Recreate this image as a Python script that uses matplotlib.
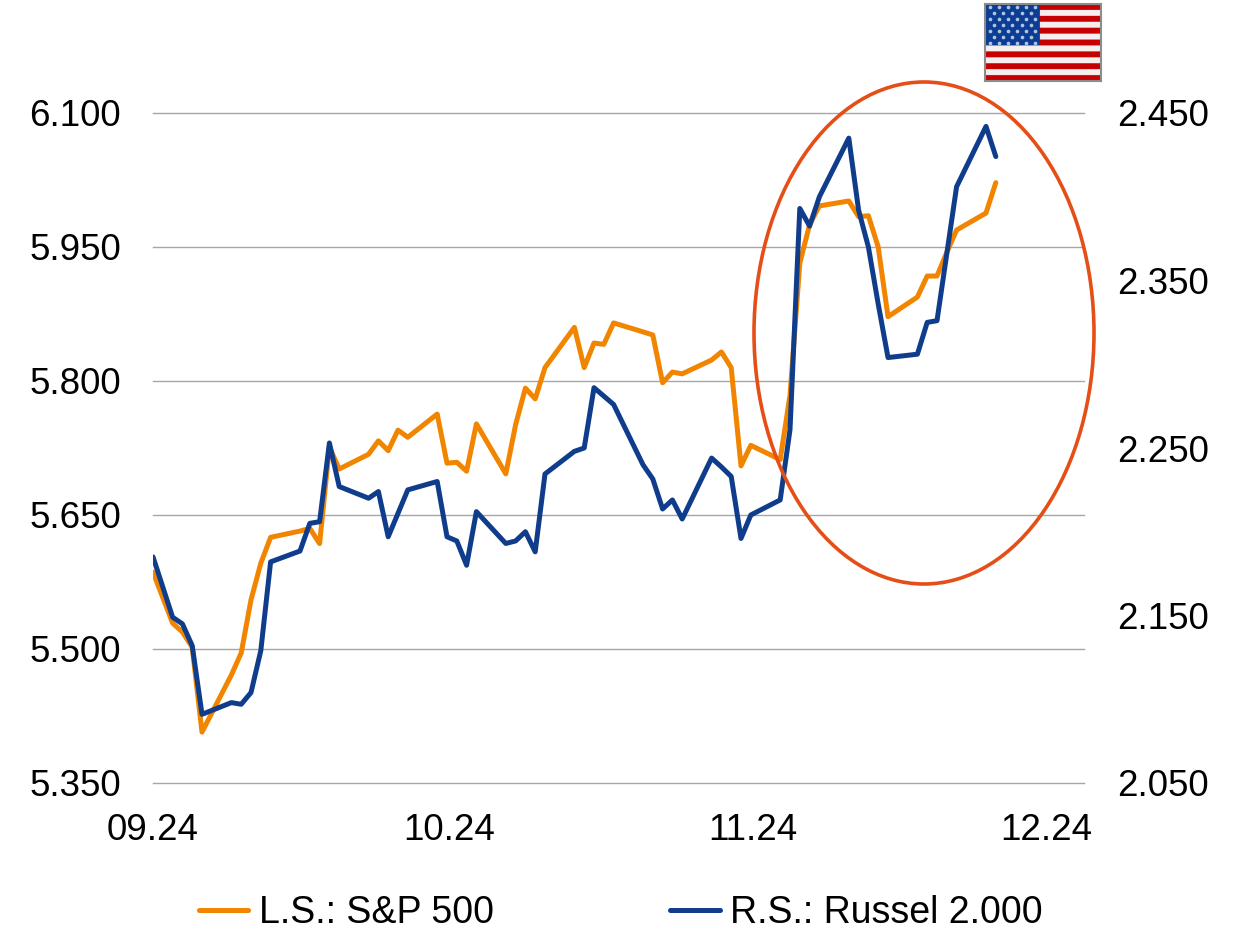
import numpy as np
import matplotlib
matplotlib.use("Agg")
import matplotlib.pyplot as plt
from matplotlib.patches import Ellipse

plt.rcParams['font.family'] = ['Liberation Sans', 'DejaVu Sans']

# Days since 1 Sep 2024
days = [0, 2, 3, 4, 5, 8, 9, 10, 11, 12, 15, 16, 17, 18, 19, 22, 23, 24, 25, 26,
        29, 30, 31, 32, 33, 36, 37, 38, 39, 40, 43, 44, 45, 46, 47, 50, 51, 52, 53, 54,
        57, 58, 59, 60, 61, 64, 65, 66, 67, 68, 71, 72, 73, 74, 75, 78, 79, 80, 81, 82,
        85, 86]
sp500 = [5586, 5529, 5519, 5502, 5407, 5471, 5495.5, 5555, 5596, 5625,
         5632, 5635, 5618, 5726, 5701.5, 5718, 5733, 5722, 5745, 5737,
         5763, 5708, 5709, 5699, 5752, 5696, 5751, 5792, 5780, 5815,
         5860, 5815, 5842.5, 5841, 5865, 5855, 5851.5, 5798, 5810, 5808,
         5823.5, 5832.5, 5815, 5705, 5728, 5712, 5784, 5932, 5975, 5996,
         6001.5, 5984, 5985, 5950, 5872, 5894, 5917.5, 5917.5, 5944, 5969,
         5988, 6022]
russell = [2185, 2149, 2145, 2132, 2091, 2098, 2097, 2104, 2129, 2182,
           2188.5, 2205, 2206, 2253, 2227, 2220, 2224, 2197, 2211, 2225,
           2230, 2197, 2194.5, 2180, 2212, 2193, 2194.5, 2200, 2188, 2234.5,
           2248, 2250, 2286, 2281, 2276, 2240, 2231.5, 2213.6, 2219, 2207.6,
           2244, 2238.7, 2233, 2196, 2210, 2219, 2261, 2393, 2382.5, 2400,
           2435, 2392, 2370, 2336, 2304, 2306, 2325, 2326, 2366, 2406,
           2442, 2424]
left_ticks = [5350, 5500, 5650, 5800, 5950, 6100]
left_labels = ['5.350', '5.500', '5.650', '5.800', '5.950', '6.100']
right_ticks = [2050, 2150, 2250, 2350, 2450]
right_labels = ['2.050', '2.150', '2.250', '2.350', '2.450']
x_ticks = [0, 30.2, 61.2, 91.2]
x_labels = ['09.24', '10.24', '11.24', '12.24']

W, H = 1236, 926
ORANGE = '#F28500'
BLUE = '#0F3D8C'
GRID = '#A6A6A6'
FS = 26.5
LFS = 27

fig = plt.figure(figsize=(W / 100, H / 100), dpi=100, facecolor='white')
L, R, T, B = 153, 1084, 113, 783
ax = fig.add_axes([L / W, 1 - B / H, (R - L) / W, (B - T) / H])
ax.set_xlim(0, (R - L) / 9.80)
ax.set_ylim(5350, 6100)
ax.set_facecolor('none')
for s in ax.spines.values():
    s.set_visible(False)
ax.set_yticks(left_ticks, left_labels)
ax.set_xticks(x_ticks, x_labels)
ax.yaxis.grid(True, color=GRID, lw=1.0, clip_on=False)
ax.set_axisbelow(True)
ax.tick_params(axis='both', length=0, labelsize=FS, labelcolor='black')
ax.tick_params(axis='y', pad=23)
ax.tick_params(axis='x', pad=21.5)

ax2 = ax.twinx()
ax2.set_ylim(2050, 2450)
ax2.set_yticks(right_ticks, right_labels)
ax2.tick_params(axis='y', length=0, labelsize=FS, pad=23.5)
for s in ax2.spines.values():
    s.set_visible(False)

l1, = ax.plot(days, sp500, color=ORANGE, lw=3.6, solid_joinstyle='round',
              solid_capstyle='round', label='L.S.: S&P 500')
l2, = ax2.plot(days, russell, color=BLUE, lw=3.6, solid_joinstyle='round',
               solid_capstyle='round', label='R.S.: Russel 2.000')

# Highlight ellipse (drawn in axes fraction so it can overhang the plot area)
ax2.add_patch(Ellipse(((924 - L) / (R - L), 1 - (333 - T) / (B - T)),
                      340 / (R - L), 502 / (B - T), transform=ax2.transAxes,
                      fill=False, edgecolor='#E64E17', lw=2.6, clip_on=False, zorder=5))

fig.legend(handles=[l1, l2], loc='center', bbox_to_anchor=(620.5 / W, 1 - 913 / H), ncol=2,
           frameon=False, fontsize=LFS, handlelength=1.33, handletextpad=0.27,
           columnspacing=4.70, borderpad=0)

# Flag icon
fx0, fx1, fy0, fy1 = 985, 1101, 4, 81
flag = fig.add_axes([fx0 / W, 1 - fy1 / H, (fx1 - fx0) / W, (fy1 - fy0) / H])
rows, cols, sub = 13, 19, 4
img = np.ones((rows * sub, cols * sub, 3))
for r in range(rows):
    img[r * sub:(r + 1) * sub, :] = (0.78, 0.0, 0.0) if r % 2 == 0 else (0.97, 0.94, 0.94)
img[:7 * sub, :9 * sub] = (0.05, 0.24, 0.58)
flag.imshow(img, extent=(0, cols, rows, 0), aspect='auto', interpolation='hanning')
star_x, star_y = [], []
for r in range(7):
    n = 6 if r % 2 == 0 else 5
    off = 0.75 if r % 2 == 0 else 1.5
    for c in range(n):
        star_x.append(off + c * 1.5)
        star_y.append(0.5 + r)
flag.scatter(star_x, star_y, s=7, color='#AFC3E4', linewidths=0)
flag.set_xlim(0, cols)
flag.set_ylim(rows, 0)
flag.set_xticks([])
flag.set_yticks([])
for s in flag.spines.values():
    s.set_edgecolor('#8C8C8C')
    s.set_linewidth(1.5)

fig.savefig('out.png', dpi=100, facecolor='white')
